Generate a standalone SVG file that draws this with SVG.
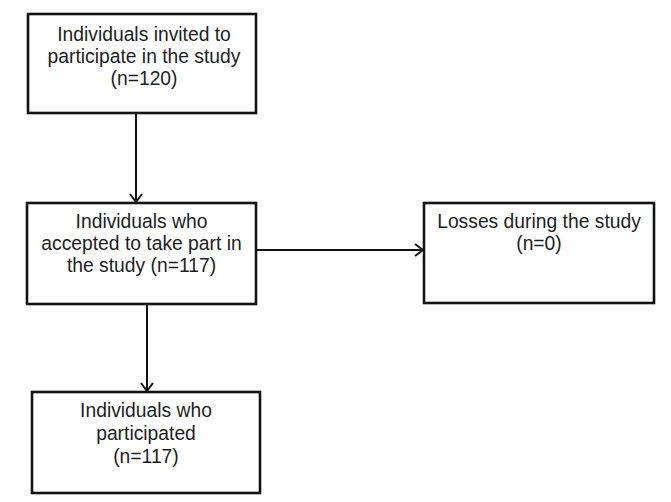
<svg xmlns="http://www.w3.org/2000/svg" width="671" height="502" viewBox="0 0 671 502">
<defs>
<style>
.box{fill:#fff;stroke:#111;stroke-width:2.6}
.t{font-family:"Liberation Sans",Arial,sans-serif;font-size:19.3px;fill:#1e1e1e;text-anchor:middle}
.c{fill:none;stroke:#111;stroke-width:2}
</style>
<marker id="ah" viewBox="0 0 10 14" refX="9" refY="7" markerWidth="10" markerHeight="14" markerUnits="userSpaceOnUse" orient="auto">
<path d="M1,1 L9,7 L1,13" fill="none" stroke="#111" stroke-width="2"/>
</marker>
</defs>
<rect width="671" height="502" fill="#fff"/>
<g id="connectors">
<line class="c" x1="136" y1="113" x2="136" y2="202" marker-end="url(#ah)"/>
<line class="c" x1="256" y1="250" x2="423" y2="250" marker-end="url(#ah)"/>
<line class="c" x1="147" y1="304" x2="147" y2="391" marker-end="url(#ah)"/>
</g>
<g id="invited">
<rect class="box" x="28" y="14" width="228" height="99"/>
<text class="t" x="144" y="41">Individuals invited to</text>
<text class="t" x="144" y="63">participate in the study</text>
<text class="t" x="144" y="85">(n=120)</text>
</g>
<g id="accepted">
<rect class="box" x="27" y="203" width="229" height="101"/>
<text class="t" x="141.5" y="228">Individuals who</text>
<text class="t" x="141.5" y="250">accepted to take part in</text>
<text class="t" x="141.5" y="272">the study (n=117)</text>
</g>
<g id="losses">
<rect class="box" x="424" y="203" width="230" height="100"/>
<text class="t" x="539" y="228">Losses during the study</text>
<text class="t" x="539" y="250">(n=0)</text>
</g>
<g id="participated">
<rect class="box" x="32" y="392" width="228" height="101"/>
<text class="t" x="146" y="417">Individuals who</text>
<text class="t" x="146" y="440">participated</text>
<text class="t" x="146" y="463">(n=117)</text>
</g>
</svg>
